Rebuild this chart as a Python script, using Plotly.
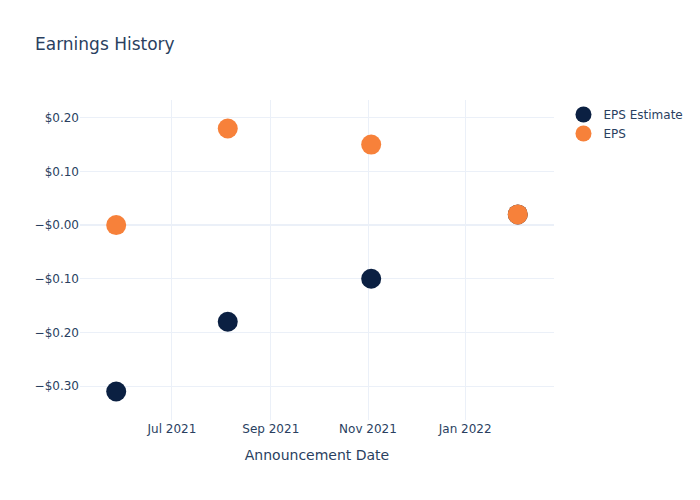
import plotly.graph_objects as go

dates = ["2021-05-27", "2021-08-05", "2021-11-03", "2022-02-03"]
eps_estimate = [-0.31, -0.18, -0.10, 0.02]
eps_actual = [0.00, 0.18, 0.15, 0.02]
y_tickvals = [-0.3, -0.2, -0.1, 0.0, 0.1, 0.2]
y_ticktext = ["\u2212$0.30", "\u2212$0.20", "\u2212$0.10", "\u2212$0.00", "$0.10", "$0.20"]

fig = go.Figure()
fig.add_trace(go.Scatter(x=dates, y=eps_estimate, mode="markers", name="EPS Estimate",
                         marker=dict(color="#0B2042", size=20)))
fig.add_trace(go.Scatter(x=dates, y=eps_actual, mode="markers", name="EPS",
                         marker=dict(color="#F7813A", size=20)))
fig.update_layout(
    template="plotly_white",
    width=700, height=500,
    font=dict(family="DejaVu Sans"),
    title="Earnings History",
    xaxis_title="Announcement Date",
    yaxis=dict(tickvals=y_tickvals, ticktext=y_ticktext),
)
fig.write_html("out.html")
